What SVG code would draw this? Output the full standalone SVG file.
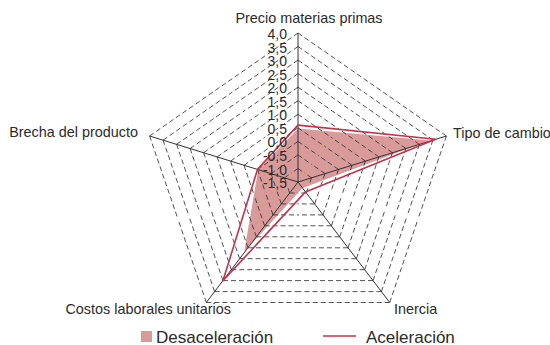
<svg xmlns="http://www.w3.org/2000/svg" width="550" height="345" viewBox="0 0 550 345">
<style>
.grid{fill:none;stroke:#333;stroke-width:0.85;stroke-dasharray:5 3}
.axis{stroke:#333;stroke-width:1;fill:none}
.lbl{font-family:"Liberation Sans",Arial,sans-serif;font-size:14.4px;fill:#2b2b2b}
.tick{font-family:"Liberation Sans",Arial,sans-serif;font-size:14px;fill:#2b2b2b;text-anchor:end}
.leg{font-family:"Liberation Sans",Arial,sans-serif;font-size:17px;fill:#2b2b2b}
.desac{fill:#d99a9a;stroke:#fff;stroke-width:1.5;stroke-linejoin:round}
.acel{fill:none;stroke:#c0354a;stroke-width:1.6;stroke-linejoin:round}
</style>
<rect width="550" height="345" fill="#fff"/>
<g id="serie-desaceleracion">
<polygon class="desac" points="298,127.8 432.9,140.1 303,188.6 243,254.3 257.5,169.4"/>
</g>
<g id="grid">
<path class="grid" d="M298,168.5L304.7,173.1M311.5,177.8L304.7,173.1M311.5,177.8L308.9,185.4M306.3,193L308.9,185.4M306.3,193L298,193M289.7,193L298,193M289.7,193L287.1,185.4M284.5,177.8L287.1,185.4M284.5,177.8L291.3,173.1M298,168.5L291.3,173.1"/>
<path class="grid" d="M298,154.9L311.5,164.3M325,173.6L311.5,164.3M325,173.6L319.8,188.8M314.7,203.9L319.8,188.8M314.7,203.9L298,203.9M281.3,203.9L298,203.9M281.3,203.9L276.2,188.8M271,173.6L276.2,188.8M271,173.6L284.5,164.3M298,154.9L284.5,164.3"/>
<path class="grid" d="M298,141.4L318.2,155.4M338.5,169.4L318.2,155.4M338.5,169.4L330.7,192.2M323,214.9L330.7,192.2M323,214.9L298,214.9M273,214.9L298,214.9M273,214.9L265.3,192.2M257.5,169.4L265.3,192.2M257.5,169.4L277.8,155.4M298,141.4L277.8,155.4"/>
<path class="grid" d="M298,127.8L325,146.5M352,165.3L325,146.5M352,165.3L341.7,195.6M331.4,225.8L341.7,195.6M331.4,225.8L298,225.8M264.6,225.8L298,225.8M264.6,225.8L254.3,195.6M244,165.3L254.3,195.6M244,165.3L271,146.5M298,127.8L271,146.5"/>
<path class="grid" d="M298,114.3L331.7,137.7M365.4,161.1L331.7,137.7M365.4,161.1L352.6,198.9M339.7,236.8L352.6,198.9M339.7,236.8L298,236.8M256.3,236.8L298,236.8M256.3,236.8L243.4,198.9M230.6,161.1L243.4,198.9M230.6,161.1L264.3,137.7M298,114.3L264.3,137.7"/>
<path class="grid" d="M298,100.7L338.5,128.8M378.9,156.9L338.5,128.8M378.9,156.9L363.5,202.3M348,247.8L363.5,202.3M348,247.8L298,247.8M248,247.8L298,247.8M248,247.8L232.5,202.3M217.1,156.9L232.5,202.3M217.1,156.9L257.5,128.8M298,100.7L257.5,128.8"/>
<path class="grid" d="M298,87.2L345.2,119.9M392.4,152.7L345.2,119.9M392.4,152.7L374.4,205.7M356.4,258.7L374.4,205.7M356.4,258.7L298,258.7M239.6,258.7L298,258.7M239.6,258.7L221.6,205.7M203.6,152.7L221.6,205.7M203.6,152.7L250.8,119.9M298,87.2L250.8,119.9"/>
<path class="grid" d="M298,73.6L352,111.1M405.9,148.5L352,111.1M405.9,148.5L385.3,209.1M364.7,269.7L385.3,209.1M364.7,269.7L298,269.7M231.3,269.7L298,269.7M231.3,269.7L210.7,209.1M190.1,148.5L210.7,209.1M190.1,148.5L244,111.1M298,73.6L244,111.1"/>
<path class="grid" d="M298,60.1L358.7,102.2M419.4,144.3L358.7,102.2M419.4,144.3L396.2,212.5M373,280.6L396.2,212.5M373,280.6L298,280.6M223,280.6L298,280.6M223,280.6L199.8,212.5M176.6,144.3L199.8,212.5M176.6,144.3L237.3,102.2M298,60.1L237.3,102.2"/>
<path class="grid" d="M298,46.5L365.4,93.3M432.9,140.1L365.4,93.3M432.9,140.1L407.1,215.9M381.4,291.6L407.1,215.9M381.4,291.6L298,291.6M214.6,291.6L298,291.6M214.6,291.6L188.9,215.9M163.1,140.1L188.9,215.9M163.1,140.1L230.6,93.3M298,46.5L230.6,93.3"/>
<path class="grid" d="M298,33L372.2,84.5M446.4,136L372.2,84.5M446.4,136L418,219.2M389.7,302.5L418,219.2M389.7,302.5L298,302.5M206.3,302.5L298,302.5M206.3,302.5L178,219.2M149.6,136L178,219.2M149.6,136L223.8,84.5M298,33L223.8,84.5"/>
</g>
<g id="axes">
<path class="axis" d="M298,182L298,33M298,182L446.4,136M298,182L389.7,302.5M298,182L206.3,302.5M298,182L149.6,136"/>
</g>
<g id="serie-aceleracion">
<polygon class="acel" points="298,125.1 435.6,139.3 305.5,191.9 223,280.6 257.5,169.4"/>
</g>
<g id="tick-labels">
<text class="tick" x="287" y="188">-1,5</text>
<text class="tick" x="287" y="174.5">-1,0</text>
<text class="tick" x="287" y="160.9">-0,5</text>
<text class="tick" x="287" y="147.4">0,0</text>
<text class="tick" x="287" y="133.8">0,5</text>
<text class="tick" x="287" y="120.3">1,0</text>
<text class="tick" x="287" y="106.7">1,5</text>
<text class="tick" x="287" y="93.2">2,0</text>
<text class="tick" x="287" y="79.6">2,5</text>
<text class="tick" x="287" y="66.1">3,0</text>
<text class="tick" x="287" y="52.5">3,5</text>
<text class="tick" x="287" y="39">4,0</text>
</g>
<g id="node-precio"><text class="lbl" x="309" y="23" text-anchor="middle">Precio materias primas</text></g>
<g id="node-tipo"><text class="lbl" x="453" y="138">Tipo de cambio</text></g>
<g id="node-inercia"><text class="lbl" x="394" y="314">Inercia</text></g>
<g id="node-costos"><text class="lbl" x="231" y="314" text-anchor="end">Costos laborales unitarios</text></g>
<g id="node-brecha"><text class="lbl" x="138" y="137" text-anchor="end">Brecha del producto</text></g>
<g id="legend">
<rect x="141" y="331" width="11" height="11" fill="#d99a9a"/>
<text class="leg" x="156" y="342.5">Desaceleración</text>
<line x1="323" y1="336" x2="356" y2="336" stroke="#c0354a" stroke-width="1.6"/>
<text class="leg" x="366" y="342.5">Aceleración</text>
</g>
</svg>
